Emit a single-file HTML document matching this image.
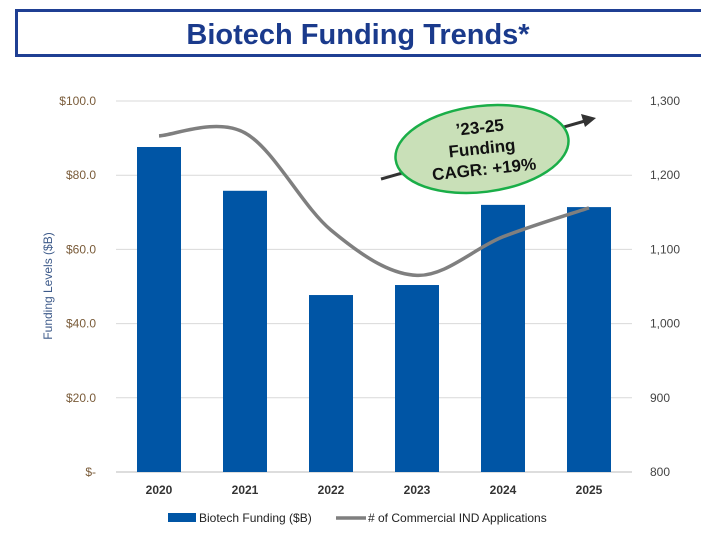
<!DOCTYPE html>
<html><head><meta charset="utf-8"><style>
body{margin:0;width:701px;height:528px;background:#fff;overflow:hidden;font-family:"Liberation Sans",sans-serif}
svg text{font-family:"Liberation Sans",sans-serif}
</style></head><body>
<svg id="c" width="701" height="528">
<rect x="16.5" y="10.5" width="700" height="45" fill="#fff" stroke="#1f3f93" stroke-width="3"/>
<text x="358" y="44" text-anchor="middle" font-size="29" font-weight="bold" fill="#1a3a8c">Biotech Funding Trends*</text>
<g id="grid"></g><g id="bars"></g><g id="line"></g><g id="axes"></g>
<g>
<line x1="381" y1="179" x2="585" y2="121" stroke="#333" stroke-width="3"/>
<polygon points="596,118 581,114 585,127" fill="#333"/>
<ellipse cx="482" cy="149" rx="87" ry="43" transform="rotate(-7 482 149)" fill="#c9e0b8" stroke="#1aae48" stroke-width="2.5"/>
<g transform="rotate(-6 482 149)" font-size="17" font-weight="bold" fill="#111" text-anchor="middle">
<text x="482" y="133">’23-25</text><text x="482" y="154">Funding</text><text x="482" y="175">CAGR: +19%</text></g>
</g>
<g font-size="12" fill="#222">
<rect x="168" y="513" width="28" height="9" fill="#0055a5"/>
<text x="199" y="522">Biotech Funding ($B)</text>
<line x1="336" y1="518" x2="366" y2="518" stroke="#7f7f7f" stroke-width="3.5"/>
<text x="368" y="522"># of Commercial IND Applications</text>
</g>
</svg>
<script>
const years=["2020","2021","2022","2023","2024","2025"];
const funding=[87.6,75.8,47.7,50.4,72.0,71.4];
const apps=[1253,1257,1126,1065,1117,1156];
const leftTicks=["$-","$20.0","$40.0","$60.0","$80.0","$100.0"];
const leftVals=[0,20,40,60,80,100];
const rightTicks=["800","900","1,000","1,100","1,200","1,300"];
const rightVals=[800,900,1000,1100,1200,1300];
const NS="http://www.w3.org/2000/svg";
const X0=116,X1=632,Y0=472,Y1=101,step=(X1-X0)/years.length;
const xc=i=>X0+step*(i+0.5);
const yL=v=>Y0-(v/100)*(Y0-Y1);
const yR=v=>Y0-((v-800)/500)*(Y0-Y1);
function mk(t,a,p){const e=document.createElementNS(NS,t);for(const k in a)e.setAttribute(k,a[k]);document.getElementById(p).appendChild(e);return e;}
leftVals.forEach((v,i)=>{
 const g=mk("line",{x1:X0,x2:X1,y1:yL(v),y2:yL(v),stroke:i==0?"#bbb":"#d9d9d9","stroke-width":1},"grid");
 
 
 const t=mk("text",{x:96,y:yL(v)+4,"text-anchor":"end","font-size":12,fill:"#7a5c3a"},"axes");t.textContent=leftTicks[i];
 
 
});
rightVals.forEach((v,i)=>{
 const t=mk("text",{x:650,y:yR(v)+4,"font-size":12,fill:"#444"},"axes");t.textContent=rightTicks[i];
 
 
});
const yt=mk("text",{x:0,y:0,transform:"translate(52 286) rotate(-90)","text-anchor":"middle","font-size":12,fill:"#3d5a8a"},"axes");yt.textContent="Funding Levels ($B)";


years.forEach((y,i)=>{
 const b=mk("rect",{x:xc(i)-22,y:yL(funding[i]),width:44,height:Y0-yL(funding[i]),fill:"#0055a5"},"bars");
 
 
 const t=mk("text",{x:xc(i),y:494,"text-anchor":"middle","font-size":12,"font-weight":"bold",fill:"#333"},"axes");t.textContent=y;
 
 
});
const P=apps.map((v,i)=>[xc(i),yR(v)]);
let d="M"+P[0][0]+","+P[0][1];
for(let i=0;i<P.length-1;i++){
 const p0=P[Math.max(0,i-1)],p1=P[i],p2=P[i+1],p3=P[Math.min(P.length-1,i+2)];
 const c1=[p1[0]+(p2[0]-p0[0])/6,p1[1]+(p2[1]-p0[1])/6],c2=[p2[0]-(p3[0]-p1[0])/6,p2[1]-(p3[1]-p1[1])/6];
 d+=" C"+c1+" "+c2+" "+p2;
}
const l=mk("path",{d:d,fill:"none",stroke:"#7f7f7f","stroke-width":3.5},"line");


</script>
</body></html>
